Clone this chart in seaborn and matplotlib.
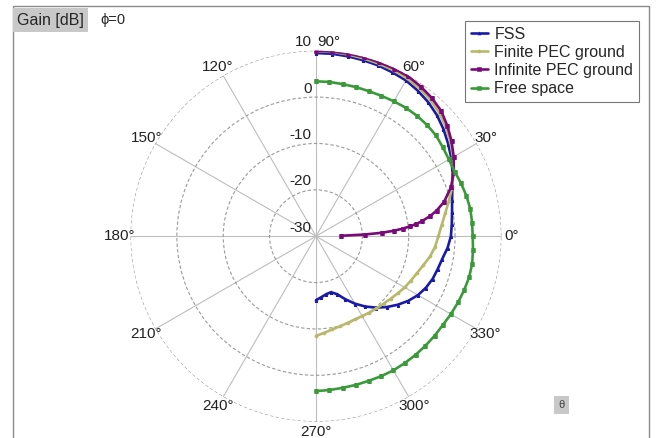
import numpy as np
import matplotlib
matplotlib.use("Agg")
import matplotlib.pyplot as plt
import seaborn as sns
from matplotlib.patches import Rectangle

# elevation angle (deg) and gain (dB)
theta_main = [90, 85, 80, 75, 70, 65, 60, 55, 50, 45, 40, 35, 30, 25, 20, 15, 10, 5, 0,
              -5, -10, -15, -20, -25, -30, -35, -40, -45, -50, -55, -60, -65, -70, -75, -80, -85, -90]
fss = [9.5, 9.5, 9.4, 9.3, 9.2, 9.0, 8.8, 8.3, 7.7, 6.9, 5.9, 4.8, 3.7, 2.5, 1.3, 0.4, -0.2, -0.6, -0.9,
       -1.5, -2.3, -2.8, -3.2, -3.8, -4.6, -5.7, -7.0, -8.4, -9.9, -11.5, -13.2, -15.0, -16.7, -17.5, -17.3, -16.8, -16.2]
finite_pec = [9.9, 9.9, 9.8, 9.7, 9.6, 9.5, 9.3, 8.9, 8.4, 7.6, 6.6, 5.4, 4.1, 2.7, 1.3, -0.3, -1.7, -2.8, -3.6,
              -4.2, -5.0, -6.0, -6.8, -7.4, -7.9, -8.5, -9.0, -9.4, -9.7, -9.9, -10.1, -10.2, -10.1, -9.9, -9.6, -9.1, -8.5]
free_space = [3.4, 3.4, 3.3, 3.3, 3.3, 3.4, 3.6, 3.8, 3.9, 3.9, 3.8, 3.4, 3.1, 3.0, 3.3, 3.6, 3.8, 3.8, 3.8,
              4.0, 4.2, 4.2, 4.0, 3.8, 3.6, 3.4, 3.4, 3.4, 3.4, 3.4, 3.4, 3.3, 3.2, 3.2, 3.2, 3.3, 3.4]

theta_inf = [90, 85, 80, 75, 70, 65, 60, 55, 50, 45, 40, 35, 30, 25, 20, 15, 12, 10, 8, 7, 6, 5, 4, 3, 2, 1]
infinite_pec = [10.0, 10.0, 10.0, 10.0, 9.9, 9.9, 9.8, 9.4, 8.9, 8.2, 7.0, 5.7, 4.3, 2.8, 1.0, -1.4, -3.4, -5.0,
                -7.0, -8.2, -9.6, -11.2, -13.2, -15.8, -19.5, -24.6]

r_ticks = [-30, -20, -10, 0, 10]
theta_ticks = list(range(0, 360, 30))

sns.set_theme(style="white")
plt.rcParams["font.family"] = ["Liberation Sans", "DejaVu Sans"]

fig = plt.figure(figsize=(6.56, 4.38), dpi=100)
ax = fig.add_axes([0.1989, 0.0372, 0.5655, 0.847], projection="polar")
ax.set_facecolor("white")

series = [
    ("FSS", theta_main, fss, "#1a1aa8", "^"),
    ("Finite PEC ground", theta_main, finite_pec, "#b8b86a", "o"),
    ("Infinite PEC ground", theta_inf, infinite_pec, "#7a0a7a", "s"),
    ("Free space", theta_main, free_space, "#3a9a3a", "s"),
]
for label, th, vals, col, mk in series:
    sns.lineplot(x=np.deg2rad(th), y=vals, ax=ax, sort=False, estimator=None,
                 color=col, marker=mk, markersize=2.2, markeredgewidth=0.4,
                 markeredgecolor=col, linewidth=1.9, label=label)

ax.set_rlim(-30, 10)
ax.set_yticks(r_ticks)
ax.set_yticklabels([])
# 90° label is drawn separately so it sits right of the axis line, like the reference
ax.set_thetagrids(theta_ticks, labels=["" if a == 90 else f"{a}°" for a in theta_ticks], fontsize=11)
ax.tick_params(axis="x", pad=-5.5, colors="#222222")
ax.xaxis.grid(True, color="#bdbdbd", lw=0.8, ls="-")
ax.yaxis.grid(True, color="#9a9a9a", lw=0.8, ls=(0, (3, 2)))
ax.spines["polar"].set_visible(False)

ax.annotate("90°", xy=(np.pi / 2, 10), xytext=(1, 1), textcoords="offset points",
            ha="left", va="bottom", fontsize=11, color="#222222")
for r in r_ticks:
    ax.annotate(str(r), xy=(np.pi / 2, r), xytext=(-3, 1), textcoords="offset points",
                ha="right", va="bottom", fontsize=11, color="#222222")

ax.get_legend().remove()
h, l = ax.get_legend_handles_labels()
leg = fig.legend(h, l, loc="upper right", bbox_to_anchor=(0.974, 0.952), fontsize=11.5,
                 frameon=True, fancybox=False, handlelength=1.1, handletextpad=0.4,
                 labelspacing=0.2, borderpad=0.35, borderaxespad=0)
leg.get_frame().set_edgecolor("#555555")
leg.get_frame().set_linewidth(0.8)

# outer frame
fig.add_artist(Rectangle((0.0198, -0.01), 0.9695, 0.9965, transform=fig.transFigure,
                         fill=False, edgecolor="#8a8a8a", lw=1.0))

fig.text(0.026, 0.954, "Gain [dB]", fontsize=11.5, va="center", ha="left",
         bbox=dict(facecolor="#c8c8c8", edgecolor="none", pad=3))
fig.text(0.153, 0.954, "ϕ=0", fontsize=10.5, va="center", ha="left")
fig.text(0.856, 0.075, "θ", fontsize=8, va="center", ha="center", color="#444444",
         bbox=dict(facecolor="#c8c8c8", edgecolor="none", pad=3))

fig.savefig("out.png", dpi=100)
